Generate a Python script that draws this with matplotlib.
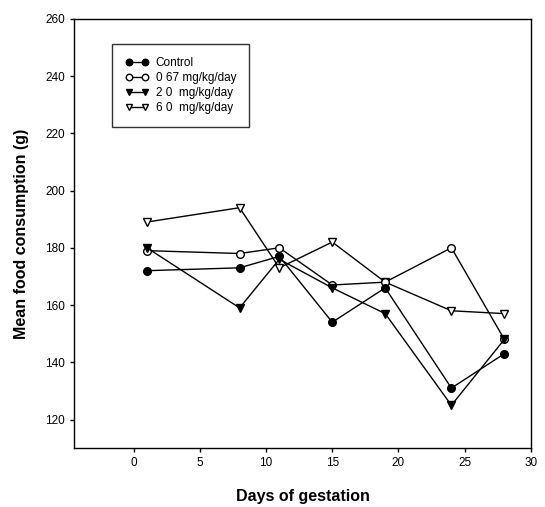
import matplotlib.pyplot as plt

plt.rcParams["font.family"] = ["Liberation Sans", "DejaVu Sans"]

days = [1, 8, 11, 15, 19, 24, 28]
control = [172, 173, 177, 154, 166, 131, 143]
dose_067 = [179, 178, 180, 167, 168, 180, 148]
dose_20 = [180, 159, 176, 166, 157, 125, 148]
dose_60 = [189, 194, 173, 182, 168, 158, 157]

labels = ["Control", "0 67 mg/kg/day", "2 0  mg/kg/day", "6 0  mg/kg/day"]
x_ticks = [0, 5, 10, 15, 20, 25, 30]
y_ticks = [120, 140, 160, 180, 200, 220, 240, 260]

fig = plt.figure(figsize=(5.45, 5.07), dpi=100)
ax = fig.add_axes([0.136, 0.116, 0.838, 0.847])

style = dict(color="black", linewidth=1.0, markersize=5.5, markeredgecolor="black")
ax.plot(days, dose_60, marker="v", markerfacecolor="white", label=labels[3], **style)
ax.plot(days, dose_067, marker="o", markerfacecolor="white", label=labels[1], **style)
ax.plot(days, dose_20, marker="v", markerfacecolor="black", label=labels[2], **style)
ax.plot(days, control, marker="o", markerfacecolor="black", label=labels[0], **style)

ax.set_xlim(-4.5, 30)
ax.set_ylim(110, 260)
ax.set_xticks(x_ticks)
ax.set_yticks(y_ticks)
ax.tick_params(direction="out", length=3, width=1, labelsize=8.5, top=False, right=False)
for s in ax.spines.values():
    s.set_linewidth(1.0)

ax.set_xlabel("Days of gestation", fontsize=11.5, fontweight="bold", labelpad=14)
ax.set_ylabel("Mean food consumption (g)", fontsize=11.5, fontweight="bold", labelpad=12)

handles, lbls = ax.get_legend_handles_labels()
order = [3, 1, 2, 0]
leg = ax.legend(
    [handles[i] for i in order],
    [lbls[i] for i in order],
    loc="upper left",
    bbox_to_anchor=(0.07, 0.955),
    numpoints=2,
    markerscale=0.85,
    fontsize=8.5,
    frameon=True,
    fancybox=False,
    handlelength=2.0,
    handletextpad=0.6,
    borderpad=1.1,
    labelspacing=0.25,
)
leg.get_frame().set_edgecolor("black")
leg.get_frame().set_linewidth(1.0)

fig.savefig("out.png", dpi=100)
